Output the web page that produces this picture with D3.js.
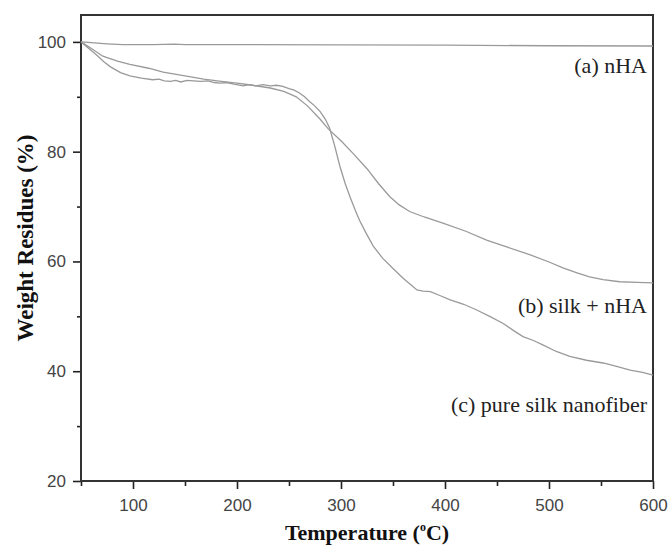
<!DOCTYPE html>
<html>
<head>
<meta charset="utf-8">
<script src="https://cdn.jsdelivr.net/npm/d3@7"></script>
<style>
  body { margin: 0; background: #fff; }
  svg { display: block; }
</style>
</head>
<body>
<div id="chart"></div>
<script>
// TGA curves
var tempA = [50, 60, 75, 90, 120, 140, 150, 200, 300, 400, 500, 600];
var nHA = [100, 99.85, 99.65, 99.5, 99.5, 99.6, 99.5, 99.5, 99.45, 99.4, 99.3, 99.25];

var tempB = [50, 60, 71, 85, 97, 115, 129, 150, 168, 185, 200, 215, 232, 245, 257, 268, 280, 288, 300, 312, 325, 336, 347, 356, 366, 380, 398, 420, 440, 460, 482, 500, 514, 527, 539, 552, 568, 585, 600];
var silkHA = [100, 98.8, 97.4, 96.5, 95.9, 95.2, 94.5, 93.8, 93.2, 92.8, 92.5, 92.1, 91.6, 91.0, 90.0, 88.3, 85.9, 84.1, 82.0, 79.6, 76.9, 74.2, 71.8, 70.3, 69.1, 68.1, 67.0, 65.5, 63.9, 62.6, 61.2, 59.9, 58.8, 57.9, 57.2, 56.7, 56.3, 56.2, 56.1];

var tempC = [50, 57, 65, 72, 78, 88, 97, 108, 119, 125, 130, 136, 141, 146, 152, 158, 165, 172, 178, 184, 190, 197, 206, 212, 218, 225, 232, 238, 244, 250, 255, 260, 265, 270, 275, 280, 285, 289, 294, 299, 304, 309, 314, 318, 324, 331, 340, 350, 360, 368, 373, 379, 386, 395, 405, 418, 430, 443, 456, 466, 475, 485, 494, 507, 520, 536, 552, 565, 578, 590, 600];
var pureSilk = [100, 98.9, 97.6, 96.4, 95.5, 94.4, 93.8, 93.4, 93.1, 93.2, 92.9, 92.8, 93.0, 92.7, 93.0, 92.9, 92.8, 92.9, 92.6, 92.5, 92.6, 92.3, 92.0, 92.2, 92.0, 92.2, 92.0, 92.1, 91.9, 91.5, 91.2, 90.7, 90.0, 89.1, 88.3, 87.3, 85.9, 84.3, 81.0, 77.3, 74.2, 71.6, 69.2, 67.4, 65.2, 62.8, 60.6, 58.7, 56.9, 55.6, 54.8, 54.6, 54.5, 53.8, 53.0, 52.2, 51.2, 50.0, 48.7, 47.4, 46.3, 45.6, 44.8, 43.6, 42.7, 42.0, 41.5, 40.9, 40.2, 39.8, 39.3];

var xMajor = [100, 200, 300, 400, 500, 600];
var xMinor = [50, 150, 250, 350, 450, 550];
var yMajor = [20, 40, 60, 80, 100];
var yMinor = [30, 50, 70, 90];

var labels = [
  { text: "(a) nHA", y: 73 },
  { text: "(b) silk + nHA", y: 313 },
  { text: "(c) pure silk nanofiber", y: 412 }
];

var width = 669, height = 547;
var margin = { top: 15, right: 16, bottom: 66, left: 81 };
var innerW = width - margin.left - margin.right;
var innerH = height - margin.top - margin.bottom;

var svg = d3.select("#chart").append("svg")
  .attr("width", width)
  .attr("height", height);

var g = svg.append("g")
  .attr("transform", "translate(" + margin.left + "," + margin.top + ")");

var x = d3.scaleLinear().domain([50, 600]).range([0, innerW]);
var y = d3.scaleLinear().domain([20, 104.9]).range([innerH, 0]);

// minor ticks first, major on top
g.append("g")
  .attr("class", "axis")
  .attr("transform", "translate(0," + innerH + ")")
  .call(d3.axisBottom(x).tickValues(xMinor).tickSize(5).tickFormat(""));
g.append("g")
  .attr("class", "axis")
  .call(d3.axisLeft(y).tickValues(yMinor).tickSize(4).tickFormat(""));

var xAxis = g.append("g")
  .attr("class", "axis")
  .attr("transform", "translate(0," + innerH + ")")
  .call(d3.axisBottom(x).tickValues(xMajor).tickSize(8).tickPadding(10));
var yAxis = g.append("g")
  .attr("class", "axis")
  .call(d3.axisLeft(y).tickValues(yMajor).tickSize(8).tickPadding(7));

g.selectAll(".axis path").remove();
g.selectAll(".axis line").attr("stroke", "#222").attr("stroke-width", 1.6);
g.selectAll(".axis text")
  .attr("fill", "#444")
  .style("font-family", "'Liberation Sans', Arial, sans-serif")
  .style("font-size", "17px");

// frame
g.append("rect")
  .attr("x", 0).attr("y", 0)
  .attr("width", innerW).attr("height", innerH)
  .attr("fill", "none")
  .attr("stroke", "#333")
  .attr("stroke-width", 2);

var line = d3.line()
  .x(function (d) { return x(d[0]); })
  .y(function (d) { return y(d[1]); });

var series = [d3.zip(tempA, nHA), d3.zip(tempB, silkHA), d3.zip(tempC, pureSilk)];
series.forEach(function (s) {
  g.append("path")
    .datum(s)
    .attr("fill", "none")
    .attr("stroke", "#9a9a9a")
    .attr("stroke-width", 1.3)
    .attr("d", line);
});

// curve labels
g.selectAll(".lab")
  .data(labels)
  .enter()
  .append("text")
  .attr("x", innerW - 6)
  .attr("y", function (d) { return d.y - margin.top; })
  .attr("text-anchor", "end")
  .style("font-family", "'Liberation Serif', 'Times New Roman', serif")
  .style("font-size", "22px")
  .attr("fill", "#222")
  .text(function (d) { return d.text; });

// axis titles
var xt = svg.append("text")
  .attr("x", margin.left + innerW / 2)
  .attr("y", 540)
  .attr("text-anchor", "middle")
  .style("font-family", "'Liberation Serif', 'Times New Roman', serif")
  .style("font-weight", "bold")
  .style("font-size", "22px")
  .attr("fill", "#111");
xt.append("tspan").text("Temperature (");
xt.append("tspan").attr("dy", -9).style("font-size", "12px").text("o");
xt.append("tspan").attr("dy", 9).text("C)");

svg.append("text")
  .attr("transform", "translate(33," + 238 + ")rotate(-90)")
  .attr("text-anchor", "middle")
  .style("font-family", "'Liberation Serif', 'Times New Roman', serif")
  .style("font-weight", "bold")
  .style("font-size", "23px")
  .attr("fill", "#111")
  .text("Weight Residues (%)");
</script>
</body>
</html>
